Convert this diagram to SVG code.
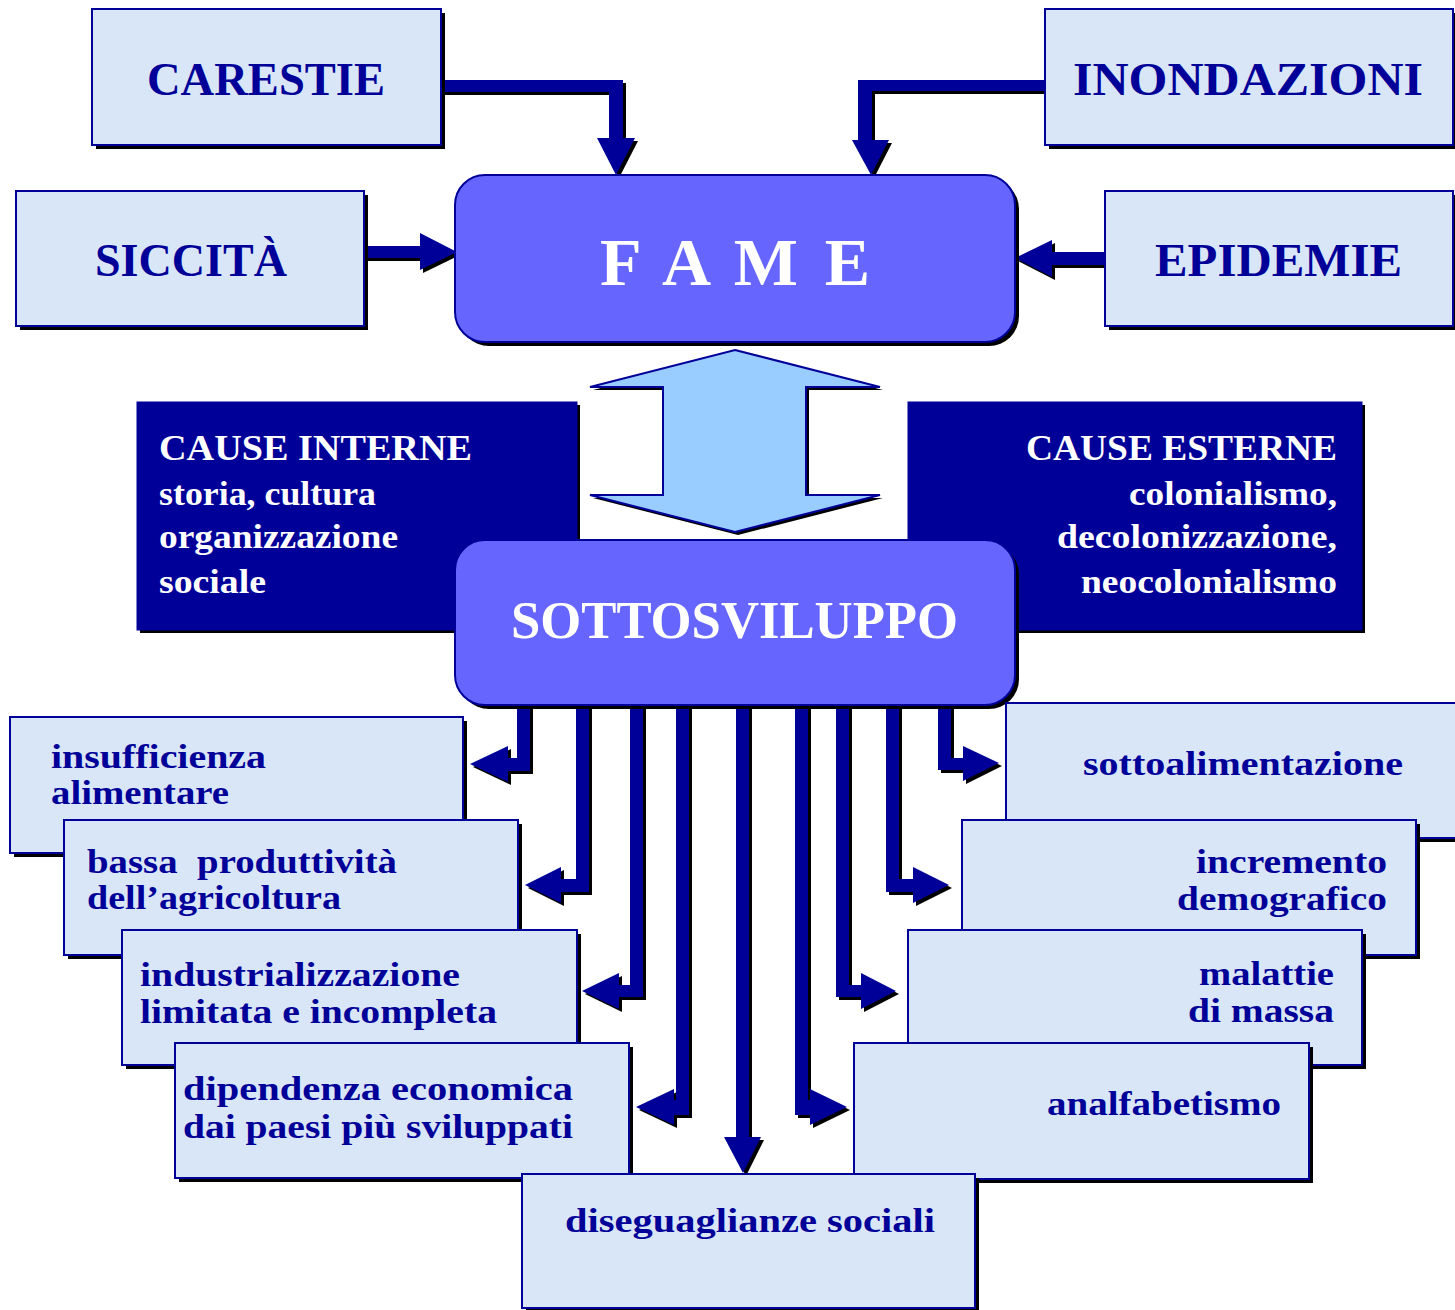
<svg xmlns="http://www.w3.org/2000/svg" width="1455" height="1310" viewBox="0 0 1455 1310">
  <style>
    .box { fill: #D9E6F8; stroke: #000099; stroke-width: 2; }
    .dark { fill: #000099; stroke: #000099; stroke-width: 1; }
    .hub { fill: #6666FF; stroke: #000099; stroke-width: 2; }
    .sh { fill: #000000; }
    .arr { fill: #000099; }
    .big { fill: #99CCFF; stroke: #000099; stroke-width: 2; }
    .t { font-family: "Liberation Serif", "Times New Roman", serif; font-weight: bold; fill: #000099; }
    .title { font-size: 46px; }
    .body { font-size: 34px; }
    .head { font-size: 36px; }
    .w { fill: #FFFFFF; }
  </style>

  <!-- connectors -->
  <g id="connectors">
    <!-- side causes into FAME -->
    <g id="arrow-carestie">
      <polygon class="sh" transform="translate(3,3)" points="441,80 623,80 623,138 635,138 616,175 597,138 609,138 609,92 441,92"/>
      <polygon class="arr" points="441,80 623,80 623,138 635,138 616,175 597,138 609,138 609,92 441,92"/>
    </g>
    <g id="arrow-inondazioni">
      <polygon class="sh" transform="translate(3,3)" points="1045,80 858,80 858,140 852,140 871,175 889,140 872,140 872,91 1045,91"/>
      <polygon class="arr" points="1045,80 858,80 858,140 852,140 871,175 889,140 872,140 872,91 1045,91"/>
    </g>
    <g id="arrow-siccita">
      <polygon class="sh" transform="translate(3,3)" points="364,246 420,246 420,233 457,252 420,270 420,258 364,258"/>
      <polygon class="arr" points="364,246 420,246 420,233 457,252 420,270 420,258 364,258"/>
    </g>
    <g id="arrow-epidemie">
      <polygon class="sh" transform="translate(3,3)" points="1105,252 1052,252 1052,240 1015,258 1052,277 1052,265 1105,265"/>
      <polygon class="arr" points="1105,252 1052,252 1052,240 1015,258 1052,277 1052,265 1105,265"/>
    </g>

    <!-- two-way link FAME / SOTTOSVILUPPO -->
    <g id="arrow-double">
      <polygon class="sh" transform="translate(3,3)" points="735,350 880,387 806,387 806,495 880,495 735,532 590,495 663,495 663,387 590,387"/>
      <polygon class="big" points="735,350 880,387 806,387 806,495 880,495 735,532 590,495 663,495 663,387 590,387"/>
    </g>

    <!-- consequences, left side -->
    <g id="arrow-l1">
      <polygon class="sh" transform="translate(3,3)" points="517,700 530,700 530,771 508,771 508,782 470,764 508,746 508,758 517,758"/>
      <polygon class="arr" points="517,700 530,700 530,771 508,771 508,782 470,764 508,746 508,758 517,758"/>
    </g>
    <g id="arrow-l2">
      <polygon class="sh" transform="translate(3,3)" points="576,700 589,700 589,892 561,892 561,903 525,885 561,867 561,879 576,879"/>
      <polygon class="arr" points="576,700 589,700 589,892 561,892 561,903 525,885 561,867 561,879 576,879"/>
    </g>
    <g id="arrow-l3">
      <polygon class="sh" transform="translate(3,3)" points="630,700 643,700 643,997 619,997 619,1009 582,991 619,973 619,985 630,985"/>
      <polygon class="arr" points="630,700 643,700 643,997 619,997 619,1009 582,991 619,973 619,985 630,985"/>
    </g>
    <g id="arrow-l4">
      <polygon class="sh" transform="translate(3,3)" points="676,700 689,700 689,1115 674,1115 674,1125 636,1107 674,1089 674,1100 676,1100"/>
      <polygon class="arr" points="676,700 689,700 689,1115 674,1115 674,1125 636,1107 674,1089 674,1100 676,1100"/>
    </g>

    <!-- consequence, straight down -->
    <g id="arrow-c">
      <polygon class="sh" transform="translate(3,3)" points="736,700 749,700 749,1137 761,1137 743,1173 724,1137 736,1137"/>
      <polygon class="arr" points="736,700 749,700 749,1137 761,1137 743,1173 724,1137 736,1137"/>
    </g>

    <!-- consequences, right side -->
    <g id="arrow-r4">
      <polygon class="sh" transform="translate(3,3)" points="795,700 808,700 808,1100 810,1100 810,1089 847,1107 810,1125 810,1115 795,1115"/>
      <polygon class="arr" points="795,700 808,700 808,1100 810,1100 810,1089 847,1107 810,1125 810,1115 795,1115"/>
    </g>
    <g id="arrow-r3">
      <polygon class="sh" transform="translate(3,3)" points="836,700 849,700 849,985 861,985 861,973 896,991 861,1009 861,997 836,997"/>
      <polygon class="arr" points="836,700 849,700 849,985 861,985 861,973 896,991 861,1009 861,997 836,997"/>
    </g>
    <g id="arrow-r2">
      <polygon class="sh" transform="translate(3,3)" points="886,700 899,700 899,879 913,879 913,867 949,885 913,903 913,892 886,892"/>
      <polygon class="arr" points="886,700 899,700 899,879 913,879 913,867 949,885 913,903 913,892 886,892"/>
    </g>
    <g id="arrow-r1">
      <polygon class="sh" transform="translate(3,3)" points="938,700 951,700 951,758 963,758 963,746 999,763 963,781 963,770 938,770"/>
      <polygon class="arr" points="938,700 951,700 951,758 963,758 963,746 999,763 963,781 963,770 938,770"/>
    </g>
  </g>

  <!-- natural causes -->
  <g id="carestie">
    <rect class="sh" x="96" y="13" width="349" height="136"/>
    <rect class="box" x="92" y="9" width="349" height="136"/>
    <text class="t title" x="147" y="95" textLength="238" lengthAdjust="spacingAndGlyphs">CARESTIE</text>
  </g>
  <g id="inondazioni">
    <rect class="sh" x="1049" y="13" width="408" height="136"/>
    <rect class="box" x="1045" y="9" width="408" height="136"/>
    <text class="t title" x="1073" y="95" textLength="350" lengthAdjust="spacingAndGlyphs">INONDAZIONI</text>
  </g>
  <g id="siccita">
    <rect class="sh" x="20" y="195" width="348" height="135"/>
    <rect class="box" x="16" y="191" width="348" height="135"/>
    <text class="t title" x="95" y="276" textLength="192" lengthAdjust="spacingAndGlyphs">SICCITÀ</text>
  </g>
  <g id="epidemie">
    <rect class="sh" x="1109" y="195" width="348" height="135"/>
    <rect class="box" x="1105" y="191" width="348" height="135"/>
    <text class="t title" x="1155" y="276" textLength="247" lengthAdjust="spacingAndGlyphs">EPIDEMIE</text>
  </g>

  <!-- central problem -->
  <g id="fame">
    <rect class="sh" x="459" y="179" width="560" height="167" rx="30"/>
    <rect class="hub" x="455" y="175" width="560" height="167" rx="30"/>
    <text class="t w" x="600" y="285" font-size="68" textLength="270" lengthAdjust="spacing">F A M E</text>
  </g>

  <!-- structural causes -->
  <g id="cause-interne">
    <rect class="sh" x="140" y="405" width="440" height="228"/>
    <rect class="dark" x="137" y="402" width="440" height="228"/>
    <text class="t w head" x="159" y="460" textLength="313" lengthAdjust="spacingAndGlyphs">CAUSE INTERNE</text>
    <text class="t w body" x="159" y="505" textLength="217" lengthAdjust="spacingAndGlyphs">storia, cultura</text>
    <text class="t w body" x="159" y="548" textLength="239" lengthAdjust="spacingAndGlyphs">organizzazione</text>
    <text class="t w body" x="159" y="593" textLength="107" lengthAdjust="spacingAndGlyphs">sociale</text>
  </g>
  <g id="cause-esterne">
    <rect class="sh" x="911" y="405" width="454" height="228"/>
    <rect class="dark" x="908" y="402" width="454" height="228"/>
    <text class="t w head" x="1026" y="460" textLength="311" lengthAdjust="spacingAndGlyphs">CAUSE ESTERNE</text>
    <text class="t w body" x="1129" y="505" textLength="208" lengthAdjust="spacingAndGlyphs">colonialismo,</text>
    <text class="t w body" x="1057" y="548" textLength="280" lengthAdjust="spacingAndGlyphs">decolonizzazione,</text>
    <text class="t w body" x="1081" y="593" textLength="256" lengthAdjust="spacingAndGlyphs">neocolonialismo</text>
  </g>

  <g id="sottosviluppo">
    <rect class="sh" x="459" y="544" width="560" height="165" rx="30"/>
    <rect class="hub" x="455" y="540" width="560" height="165" rx="30"/>
    <text class="t w" x="511" y="638" font-size="52" textLength="447" lengthAdjust="spacingAndGlyphs">SOTTOSVILUPPO</text>
  </g>

  <!-- consequences, left stack -->
  <g id="insufficienza">
    <rect class="sh" x="14" y="721" width="453" height="136"/>
    <rect class="box" x="10" y="717" width="453" height="136"/>
    <text class="t body" x="51" y="768" textLength="215" lengthAdjust="spacingAndGlyphs">insufficienza</text>
    <text class="t body" x="51" y="804" textLength="178" lengthAdjust="spacingAndGlyphs">alimentare</text>
  </g>
  <g id="produttivita">
    <rect class="sh" x="68" y="824" width="454" height="135"/>
    <rect class="box" x="64" y="820" width="454" height="135"/>
    <text class="t body" x="87" y="873" xml:space="preserve" textLength="310" lengthAdjust="spacingAndGlyphs">bassa  produttività</text>
    <text class="t body" x="87" y="909" textLength="254" lengthAdjust="spacingAndGlyphs">dell’agricoltura</text>
  </g>
  <g id="industrializzazione">
    <rect class="sh" x="126" y="934" width="455" height="135"/>
    <rect class="box" x="122" y="930" width="455" height="135"/>
    <text class="t body" x="140" y="986" textLength="320" lengthAdjust="spacingAndGlyphs">industrializzazione</text>
    <text class="t body" x="140" y="1023" textLength="357" lengthAdjust="spacingAndGlyphs">limitata e incompleta</text>
  </g>
  <g id="dipendenza">
    <rect class="sh" x="179" y="1047" width="454" height="135"/>
    <rect class="box" x="175" y="1043" width="454" height="135"/>
    <text class="t body" x="183" y="1100" textLength="390" lengthAdjust="spacingAndGlyphs">dipendenza economica</text>
    <text class="t body" x="183" y="1138" textLength="390" lengthAdjust="spacingAndGlyphs">dai paesi più sviluppati</text>
  </g>

  <!-- consequences, right stack -->
  <g id="sottoalimentazione">
    <rect class="sh" x="1010" y="707" width="470" height="135"/>
    <rect class="box" x="1006" y="703" width="470" height="135"/>
    <text class="t body" x="1083" y="775" textLength="320" lengthAdjust="spacingAndGlyphs">sottoalimentazione</text>
  </g>
  <g id="demografico">
    <rect class="sh" x="966" y="824" width="454" height="135"/>
    <rect class="box" x="962" y="820" width="454" height="135"/>
    <text class="t body" x="1196" y="873" textLength="191" lengthAdjust="spacingAndGlyphs">incremento</text>
    <text class="t body" x="1177" y="910" textLength="210" lengthAdjust="spacingAndGlyphs">demografico</text>
  </g>
  <g id="malattie">
    <rect class="sh" x="912" y="934" width="454" height="135"/>
    <rect class="box" x="908" y="930" width="454" height="135"/>
    <text class="t body" x="1199" y="985" textLength="135" lengthAdjust="spacingAndGlyphs">malattie</text>
    <text class="t body" x="1188" y="1022" textLength="146" lengthAdjust="spacingAndGlyphs">di massa</text>
  </g>
  <g id="analfabetismo">
    <rect class="sh" x="858" y="1047" width="455" height="136"/>
    <rect class="box" x="854" y="1043" width="455" height="136"/>
    <text class="t body" x="1047" y="1115" textLength="234" lengthAdjust="spacingAndGlyphs">analfabetismo</text>
  </g>

  <!-- consequence, bottom centre -->
  <g id="diseguaglianze">
    <rect class="sh" x="526" y="1178" width="453" height="134"/>
    <rect class="box" x="522" y="1174" width="453" height="134"/>
    <text class="t body" x="565" y="1232" textLength="370" lengthAdjust="spacingAndGlyphs">diseguaglianze sociali</text>
  </g>
</svg>
